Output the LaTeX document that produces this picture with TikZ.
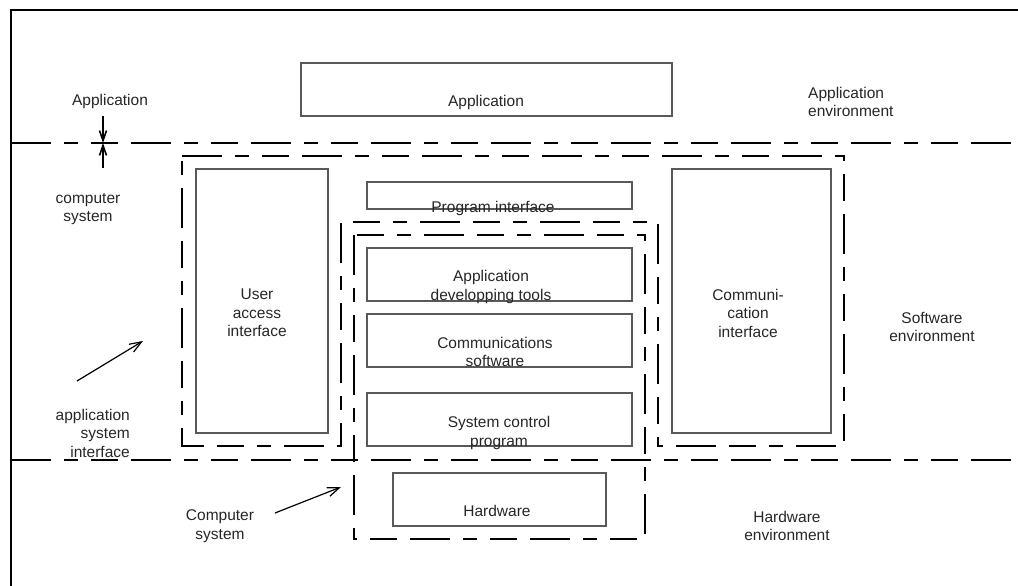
\documentclass[tikz,border=0pt]{standalone}
\usepackage{fontspec}
\setmainfont{Liberation Sans}
\usetikzlibrary{arrows.meta}
\begin{document}
\begin{tikzpicture}[x=1pt,y=-1pt,
  frameline/.style={line width=2pt,black},
  zone/.style={line width=2pt,black,
    dash pattern=on 40pt off 13pt on 14pt off 13pt on 27pt off 13pt},
  unit/.style={draw=black!65,line width=1.2pt,inner sep=0pt,rectangle},
  tx/.style={font=\fontsize{15.5}{18.5}\selectfont,align=center,inner sep=0pt,text=black!85},
  ptr/.style={line width=1.6pt,-{Straight Barb[length=10pt,width=7pt]}},
  slant/.style={line width=1.2pt,-{Straight Barb[length=12pt,width=9pt]}}
]
\useasboundingbox (0,0) rectangle (1018,586);

% outer frame (open to the right and bottom)
\draw[frameline] (11,586) -- (11,10) -- (1018,10);

% environment boundaries
\draw[zone] (11,143) -- (1018,143);
\draw[zone] (11,460) -- (1018,460);

% application system interface outline
\draw[zone] (182,156) -- (844,156) -- (844,446) -- (658,446) -- (658,222)
  -- (341,222) -- (341,446) -- (182,446) -- cycle;

% computer system outline
\draw[zone] (354,235) rectangle (645,539);

% functional units
\node[unit,minimum width=371pt,minimum height=53pt] (app)  at (486.5,89.5) {};
\node[unit,minimum width=132pt,minimum height=264pt] (uai) at (262,301) {};
\node[unit,minimum width=265pt,minimum height=27pt] (pif)  at (499.5,195.5) {};
\node[unit,minimum width=265pt,minimum height=53pt] (adt)  at (499.5,274.5) {};
\node[unit,minimum width=265pt,minimum height=53pt] (csw)  at (499.5,340.5) {};
\node[unit,minimum width=265pt,minimum height=53pt] (scp)  at (499.5,419.5) {};
\node[unit,minimum width=213pt,minimum height=53pt] (hw)   at (499.5,499.5) {};
\node[unit,minimum width=159pt,minimum height=264pt] (cif) at (751.5,301) {};

% unit captions
\node[tx] (appT) at (486,102) {Application};
\node[tx] (uaiT) at (257,313) {User\\access\\interface};
\node[tx] (pifT) at (493,208) {Program interface};
\node[tx] (adtT) at (491,287) {Application\\developping tools};
\node[tx] (cswT) at (495,352) {Communications\\software};
\node[tx] (scpT) at (499,433) {System control\\program};
\node[tx] (hwT)  at (497,511) {Hardware};
\node[tx] (cifT) at (748,313) {Communi-\\cation\\interface};

% layer and interface labels
\node[tx] (lApp) at (110,101) {Application};
\node[tx] (lCs)  at (88,209) {computer\\system};
\node[tx,align=right,anchor=east] (lAsi) at (130,433) {application\\system\\interface};
\node[tx] (lCS)  at (220,526) {Computer\\system};
\node[tx,align=left,anchor=west] (lAe) at (808,102) {Application\\environment};
\node[tx] (lSe)  at (932,327) {Software\\environment};
\node[tx] (lHe)  at (787,526) {Hardware\\environment};

% interface arrows
\coordinate (bnd) at (103,143);
\coordinate (a1) at (103,116);
\coordinate (a2) at (103,168);
\draw[ptr] (a1) -- (bnd);
\draw[ptr] (a2) -- (bnd);

\coordinate (d1s) at (77,381);
\coordinate (d1e) at (143,341);
\coordinate (d2s) at (275,513);
\coordinate (d2e) at (341,487);
\draw[slant] (d1s) -- (d1e);
\draw[slant] (d2s) -- (d2e);
\end{tikzpicture}
\end{document}
